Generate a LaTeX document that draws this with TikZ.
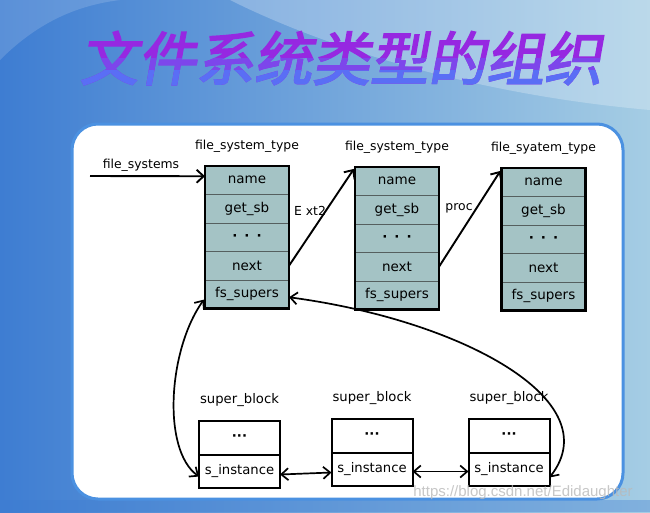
\documentclass[tikz,border=0pt]{standalone}
\usepackage{fontspec}
\setmainfont{DejaVu Sans}
\newfontfamily\cjk[FakeBold=2.5,FakeSlant=0.18]{Noto Sans CJK SC}
\newfontfamily\wmfont{Liberation Sans}
\usetikzlibrary{arrows.meta,fit}
\definecolor{boxfill}{RGB}{164,195,197}
\definecolor{divider}{RGB}{85,95,95}
\definecolor{bgleft}{RGB}{62,125,210}
\definecolor{bgright}{RGB}{165,205,228}
\definecolor{paneledge}{RGB}{75,145,225}
\definecolor{titletop}{RGB}{150,40,225}
\definecolor{titlemid}{RGB}{125,70,235}
\definecolor{titlebot}{RGB}{90,110,245}
\newcommand\fsbox[4]{%
  \node[row, anchor=north] (#1a) at (#2,#3) {name};
  \node[row, anchor=north] (#1b) at (#1a.south) {get\_sb};
  \node[row, anchor=north] (#1c) at (#1b.south) {\textbf{·\hspace{7pt}·\hspace{7pt}·}};
  \node[row, anchor=north] (#1d) at (#1c.south) {next};
  \node[row, anchor=north] (#1e) at (#1d.south) {fs\_supers};
  \node[frame, fit=(#1a)(#1e)] (#1) {};
  \node[lbl] (#1lbl) at (#2,#3-20) {#4};
}
\newcommand\sblock[3]{%
  \node[sbcell, anchor=north, minimum height=34pt] (#1a) at (#2,#3) {\textbf{···}};
  \node[sbcell, anchor=north, minimum height=33pt] (#1b) at (#1a.south) {s\_instance};
  \node[lbl, font=\fontsize{13.2}{15}\selectfont] (#1lbl) at (#2,#3-21) {super\_block};
}
\begin{document}
\begin{tikzpicture}[x=1pt,y=-1pt,
  row/.style={draw=divider, line width=1pt, fill=boxfill, minimum width=84pt,
    minimum height=28.5pt, inner sep=0pt, outer sep=0pt, font=\fontsize{13.5}{15}\selectfont},
  frame/.style={draw=black, line width=2.2pt, inner sep=0pt},
  sbcell/.style={draw=black, line width=2pt, fill=white, minimum width=81pt,
    inner sep=0pt, outer sep=0pt, font=\fontsize{13.2}{15}\selectfont},
  lbl/.style={font=\fontsize{12.4}{14}\selectfont},
  titlefont/.style={font=\cjk\fontsize{58}{62}\selectfont},
  arr/.style={line width=1.9pt, -{Straight Barb[length=7pt,width=13pt]}},
  darr/.style={line width=1.7pt, {Straight Barb[length=7pt,width=12pt]}-{Straight Barb[length=7pt,width=12pt]}}]
\useasboundingbox (0,0) rectangle (650,512);
% background
\shade[left color=bgleft, right color=bgright] (0,0) rectangle (650,512);
\fill[white, opacity=0.25] (230,0) .. controls (330,50) and (480,95) .. (650,110) -- (650,0) -- cycle;
\fill[white, opacity=0.15] (0,60) .. controls (40,20) and (80,5) .. (120,0) -- (0,0) -- cycle;
\fill[bgleft, opacity=0.35] (0,500) rectangle (650,512);
% panel
\draw[paneledge, line width=3pt, fill=white, rounded corners=26pt] (72,124) rectangle (623,499);
% title with vertical colour fade
\node[titlefont, text=titletop] (title) at (341,58) {文件系统类型的组织};
\begin{scope}
  \clip (0,58) rectangle (650,70);
  \node[titlefont, text=titlemid] (titleb) at (341,58) {文件系统类型的组织};
\end{scope}
\begin{scope}
  \clip (0,70) rectangle (650,100);
  \node[titlefont, text=titlebot] (titlec) at (341,58) {文件系统类型的组织};
\end{scope}
% file_system_type boxes
\fsbox{t1}{247}{166}{file\_system\_type}
\fsbox{t2}{397}{167}{file\_system\_type}
\fsbox{t3}{543.5}{168}{file\_syatem\_type}
% super blocks
\sblock{sa}{239.5}{421}
\sblock{sb}{372}{419}
\sblock{sc}{509}{419}
% connectors
\coordinate (fsin) at (90,176);
\draw[arr] (fsin) -- ([yshift=4pt]t1a.west);
\node[lbl] (fslbl) at (141,165) {file\_systems};
\draw[arr] (t1d.east) -- ([yshift=-3pt]t2.north west);
\node[lbl] (ext2) at (310,211) {E xt2};
\draw[arr] (t2d.east) -- ([yshift=-4pt]t3.north west);
\node[lbl] (proc) at (459,208) {proc};
\draw[darr] ([yshift=10pt]t1.south west) .. controls (168,350) and (162,450) .. ([yshift=-5pt]saa.south west |- sab.west);
\draw[darr] ([yshift=-3pt]t1e.east) .. controls (460,320) and (610,400) .. ([yshift=-8pt]scb.east);
\draw[darr] ([yshift=-3pt]sab.east) -- ([yshift=-3pt]sbb.west);
\draw[darr] ([yshift=-2pt]sbb.east) -- ([yshift=-2pt]scb.west);
% watermark
\node[font=\wmfont\fontsize{15}{16}\selectfont, text=gray!55, opacity=0.8] (wm) at (523,493) {https://blog.csdn.net/Edidaughter};
\end{tikzpicture}
\end{document}
